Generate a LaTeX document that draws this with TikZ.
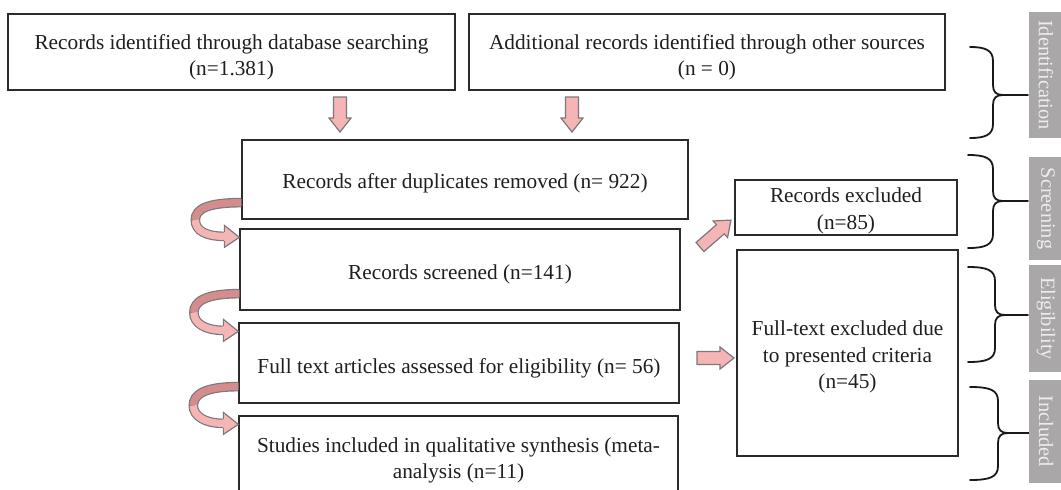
\documentclass[tikz,border=0pt]{standalone}
\usepackage{fontspec}
\setmainfont{Liberation Serif}
\usetikzlibrary{calc}
\definecolor{pinkf}{HTML}{F5B5B5}
\definecolor{pinkd}{HTML}{D48C8C}
\definecolor{arrowb}{HTML}{7A7A7A}
\definecolor{lblgray}{HTML}{A9A7A8}
\definecolor{lbltext}{HTML}{EDEDED}
\definecolor{boxline}{HTML}{2B2B2B}
% text lowered inside its box, keeping the box extents
\newcommand\tx[2][5pt]{\raisebox{-#1}[\height][\depth]{\begin{tabular}{@{}c@{}}#2\end{tabular}}}
\newcommand\blockarr[4]{% tail, angle, length, shaft half width
  \begin{scope}[shift={#1}, rotate=#2]
    \draw[barrow] (0,-#4) -- (#3-14,-#4) -- (#3-14,-11) -- (#3,0) -- (#3-14,11) -- (#3-14,#4) -- (0,#4) -- cycle;
  \end{scope}}
\newcommand\curvarr[2]{%
  \coordinate (s) at ($(#1.south west)+(0,-17)$);
  \coordinate (t) at ($(#2.north west)+(0,9)$);
  \coordinate (m) at ($(s)!0.5!(t)+(-45,0)$);
  \coordinate (hb) at ($(t)+(-15,-1)$);
  \draw[line width=9.6pt, arrowb] (s) .. controls +(-34,0) and +(0,-11) .. (m) .. controls +(0,11) and +(-18,0) .. (hb);
  \draw[line width=7.2pt, pinkd] (s) .. controls +(-34,0) and +(0,-11) .. (m);
  \draw[line width=7.2pt, pinkf] (m) .. controls +(0,11) and +(-18,0) .. (hb);
  \fill[pinkf] ($(hb)+(0,-11)$) -- (t) -- ($(hb)+(0,11)$) -- cycle;
  \draw[arrowb, line width=1.2pt, line join=miter] ($(hb)+(0,-4.4)$) -- ($(hb)+(0,-11)$) -- (t) -- ($(hb)+(0,11)$) -- ($(hb)+(0,4.4)$);
}
\newcommand\bracepath[6]{% xl xb xt y1 m y2
  \draw[brace] (#1,#4) .. controls (#2-8,#4) and (#2,#4+3) .. (#2,#4+14) -- (#2,#5-10) .. controls (#2,#5-3) and (#2+3,#5) .. (#2+10,#5) -- (#3,#5);
  \draw[brace] (#2+10,#5) .. controls (#2+3,#5) and (#2,#5+3) .. (#2,#5+10) -- (#2,#6-14) .. controls (#2,#6-3) and (#2-8,#6) .. (#1,#6);
}
\begin{document}
\begin{tikzpicture}[x=1pt,y=-1pt,
  box/.style={draw=boxline, line width=1.3pt, inner sep=0pt,
    font=\fontsize{21.3}{26.5}\selectfont, text=black!88},
  lbl/.style={fill=lblgray, text=lbltext, inner sep=0pt,
    font=\fontsize{20.4}{24}\selectfont, rotate=-90},
  brace/.style={draw=black!90, line width=1.8pt, line cap=round},
  barrow/.style={draw=arrowb, fill=pinkf, line width=1.2pt, line join=miter}]
\useasboundingbox (0,0) rectangle (1061,490);
\fill[white] (0,0) rectangle (1061,490);

% boxes
\node[box, minimum width=447pt, minimum height=76pt] (A) at (231.5,52)
  {\tx{Records identified through database searching\\(n=1.381)}};
\node[box, minimum width=476pt, minimum height=76pt] (B) at (707,52)
  {\tx{Additional records identified through other sources\\(n = 0)}};
\node[box, minimum width=446pt, minimum height=79pt] (C) at (465,179.5)
  {\tx[4pt]{Records after duplicates removed (n= 922)}};
\node[box, minimum width=440pt, minimum height=81pt] (D) at (460,269.5)
  {\tx[5pt]{Records screened (n=141)}};
\node[box, minimum width=440pt, minimum height=80pt] (E) at (459,363)
  {\tx[5pt]{Full text articles assessed for eligibility (n= 56)}};
\node[box, minimum width=439pt, minimum height=86pt] (F) at (458.5,459)
  {\tx[1pt]{Studies included in qualitative synthesis (meta-\\analysis (n=11)}};
\node[box, minimum width=222pt, minimum height=55pt] (G) at (846,207.5)
  {\tx[3pt]{Records excluded\\(n=85)}};
\node[box, minimum width=221pt, minimum height=206pt] (H) at (847.5,353)
  {\tx[4pt]{Full-text excluded due\\to presented criteria\\(n=45)}};

% curved arrows
\curvarr{C}{D}
\curvarr{D}{E}
\curvarr{E}{F}

% block arrows
\blockarr{(340,97)}{-90}{35}{6.5}
\blockarr{(572,97)}{-90}{35}{6.5}
\blockarr{(700,247)}{41}{41}{6}
\blockarr{(697,358)}{0}{37}{6.5}

% braces
\bracepath{970}{993}{1028}{47}{95}{138}
\bracepath{968}{993}{1028}{155}{201}{248}
\bracepath{968}{995}{1028}{267}{315}{362}
\bracepath{970}{998}{1030}{387}{433}{480}

% side labels
\node[lbl, minimum width=126pt, minimum height=34pt] (L1) at (1046,75) {Identification};
\node[lbl, minimum width=103pt, minimum height=34pt] (L2) at (1046,208.5) {Screening};
\node[lbl, minimum width=107pt, minimum height=34pt] (L3) at (1046,318.5) {Eligibility};
\node[lbl, minimum width=103pt, minimum height=34pt] (L4) at (1046,431.5) {Included};
\end{tikzpicture}
\end{document}
